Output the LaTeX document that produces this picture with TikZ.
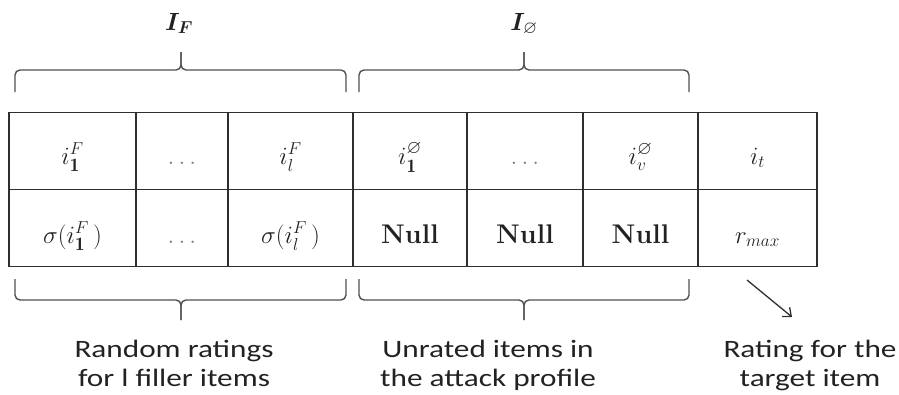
\documentclass[tikz,border=0pt]{standalone}
\usepackage{amssymb}
\usepackage{bm}
\usepackage{fontspec}
\newfontfamily\labelfont[FakeStretch=1.25]{Carlito}
\usetikzlibrary{arrows.meta}
\DeclareMathSizes{27}{27}{19}{14}
\DeclareMathSizes{25}{25}{18}{13}
\definecolor{gridline}{HTML}{2E2E2E}
\definecolor{braceline}{HTML}{505050}
\definecolor{ink}{HTML}{222222}
\tikzset{
  cellbox/.style={draw=gridline, line width=1.5pt, minimum height=77pt, inner sep=0pt,
    font=\fontsize{27}{30}\selectfont, text=ink},
  toprow/.style={cellbox, text height=26pt, text depth=0pt},
  botrow/.style={cellbox, text height=30pt, text depth=0pt},
  bracepath/.style={draw=braceline, line width=1.4pt, rounded corners=5pt},
  setlabel/.style={font=\fontsize{25}{28}\selectfont, text=ink, anchor=base, inner sep=0pt},
  note/.style={font=\labelfont\fontsize{25}{29}\selectfont, text=ink, align=center, inner sep=0pt, anchor=base},
}
\newcommand{\gdots}{\textcolor{gray}{$\ldots$}}
\begin{document}
\begin{tikzpicture}[x=1pt,y=-1pt]
\useasboundingbox (0,0) rectangle (899,394);

% top row: item identifiers
\node[toprow, minimum width=127pt] (a1) at (72.5,151) {$i_{\mathbf{1}}^{F}$};
\node[toprow, minimum width=92pt]  (a2) at (182,151) {\gdots};
\node[toprow, minimum width=125pt] (a3) at (290.5,151) {$i_{l}^{F}$};
\node[toprow, minimum width=114pt] (a4) at (410,151) {$i_{\mathbf{1}}^{\varnothing}$};
\node[toprow, minimum width=116pt] (a5) at (525,151) {\gdots};
\node[toprow, minimum width=115pt] (a6) at (640.5,151) {$i_{v}^{\varnothing}$};
\node[toprow, minimum width=119pt] (a7) at (757.5,151) {$i_{t}$};

% bottom row: assigned ratings
\node[botrow, minimum width=127pt] (b1) at (72.5,228) {$\sigma(i_{\mathbf{1}}^{F}\mkern3mu)$};
\node[botrow, minimum width=92pt]  (b2) at (182,228) {\gdots};
\node[botrow, minimum width=125pt] (b3) at (290.5,228) {$\sigma(i_{l}^{F}\mkern3mu)$};
\node[botrow, minimum width=114pt] (b4) at (410,228) {\textbf{Null}};
\node[botrow, minimum width=116pt] (b5) at (525,228) {\textbf{Null}};
\node[botrow, minimum width=115pt] (b6) at (640.5,228) {\textbf{Null}};
\node[botrow, minimum width=119pt] (b7) at (757.5,228) {$r_{max}$};

% braces above the table
\draw[bracepath] (15,92) -- (15,70) -- (181,70) -- (181,52);
\draw[bracepath] (346,92) -- (346,70) -- (181,70) -- (181,52);
\draw[bracepath] (359,92) -- (359,70) -- (524,70) -- (524,52);
\draw[bracepath] (689,92) -- (689,70) -- (524,70) -- (524,52);
\node[setlabel] (lf) at (179,30) {$\bm{I_{F}}$};
\node[setlabel] (le) at (524,30) {$\bm{I_{\varnothing}}$};

% braces below the table
\draw[bracepath] (15,279) -- (15,300) -- (181,300) -- (181,320);
\draw[bracepath] (346,279) -- (346,300) -- (181,300) -- (181,320);
\draw[bracepath] (359,279) -- (359,300) -- (524,300) -- (524,320);
\draw[bracepath] (689,279) -- (689,300) -- (524,300) -- (524,320);

% arrow to the target rating note
\coordinate (arrs) at (747,280);
\coordinate (arre) at (792,317);
\draw[draw=gridline, line width=1.3pt, -{Straight Barb[length=7pt,width=12pt]}] (arrs) -- (arre);

% notes (base anchor sits on the last line)
\node[note] (n1) at (174,386) {Random ratings\\for l filler items};
\node[note] (n2) at (488,386) {Unrated items in\\the attack profile};
\node[note] (n3) at (810,386) {Rating for the\\target item};
\end{tikzpicture}
\end{document}
